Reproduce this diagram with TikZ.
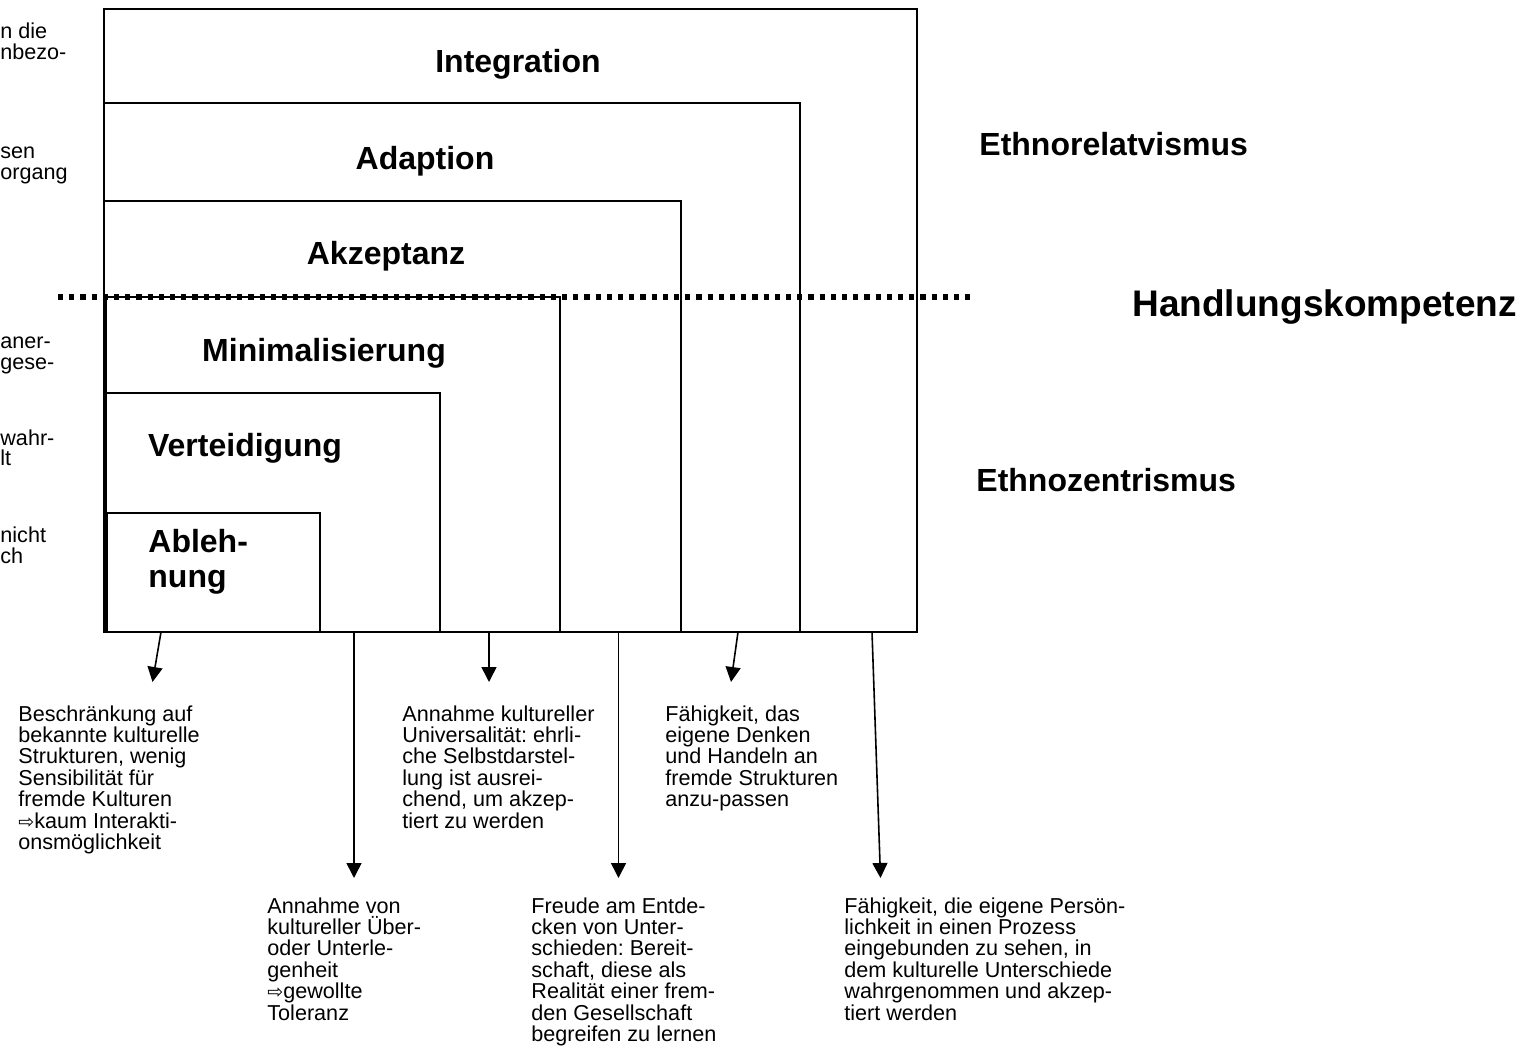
\documentclass[tikz,border=0pt]{standalone}
\usepackage{fontspec}
\setmainfont{Liberation Sans}
\newfontfamily\arrowfont{DejaVu Sans}
\usetikzlibrary{arrows.meta}
\newcommand\hollowarrow{{\arrowfont\fontsize{9.5}{9.5}\selectfont ⇨}}
\frenchspacing
\begin{document}
\begin{tikzpicture}[x=0.5pt,y=-0.5pt,
  outer/.style={line width=1.3pt},
  inner/.style={line width=0.9pt},
  level/.style={font=\bfseries\fontsize{16}{17.5}\selectfont, inner sep=0pt, anchor=base},
  side/.style={font=\bfseries\fontsize{16}{17.5}\selectfont, inner sep=0pt, anchor=base west},
  note/.style={font=\fontsize{10.8}{10.7}\selectfont, align=left, inner sep=0pt, anchor=north west},
  frag/.style={font=\fontsize{10.8}{10.7}\selectfont, inner sep=0pt, anchor=base west},
  pointer/.style={line width=0.8pt, -{Triangle[length=7.5pt,width=7.5pt]}},
  dotline/.style={line width=2.6pt, dash pattern=on 2.6pt off 3pt}
]
\useasboundingbox (0,0) rectangle (1535,1063);

% nested stage boxes, innermost first
\draw[inner] (107,632) rectangle (320,513);
\draw[inner] (106,632) -- (106,393) -- (440,393) -- (440,632);
\draw[inner] (106,393) -- (106,297) -- (560,297) -- (560,632);
\draw[inner] (104,201) -- (681,201) -- (681,632);
\draw[inner] (104,103) -- (800,103) -- (800,632);
\draw[outer] (104,9) rectangle (917,632);

% threshold line
\draw[dotline] (58,297) -- (975,297);

% stage names
\node[level] (integration) at (518,73) {Integration};
\node[level] (adaption) at (425,170) {Adaption};
\node[level] (akzeptanz) at (386,265) {Akzeptanz};
\node[level] (minimal) at (324,362) {Minimalisierung};
\node[level] (verteid) at (245,457) {Verteidigung};
\node[level, anchor=north west, align=left] (ablehnung) at (148,529) {Ableh-\\nung};

% side headings
\node[side] (ethnorel) at (979,156) {Ethnorelatvismus};
\node[side, font=\bfseries\fontsize{18.5}{20}\selectfont] (handlung) at (1132,317) {Handlungskompetenz};
\node[side] (ethnozen) at (976,491) {Ethnozentrismus};

% text continued from the left margin
\node[frag] (f1) at (0,39) {n die};
\node[frag] (f2) at (0,60) {nbezo-};
\node[frag] (f3) at (0,159) {sen};
\node[frag] (f4) at (0,180) {organg};
\node[frag] (f5) at (0,349) {aner-};
\node[frag] (f6) at (0,370) {gese-};
\node[frag] (f7) at (0,445) {wahr-};
\node[frag] (f8) at (0,466) {lt};
\node[frag] (f9) at (0,542) {nicht};
\node[frag] (f10) at (0,563) {ch};

% descriptions
\node[note] (dA) at (18,705) {Beschränkung auf\\bekannte kulturelle\\Strukturen, wenig\\Sensibilität für\\fremde Kulturen\\\hollowarrow kaum Interakti-\\onsmöglichkeit};
\node[note] (dB) at (267,897) {Annahme von\\kultureller Über-\\oder Unterle-\\genheit\\\hollowarrow gewollte\\Toleranz};
\node[note] (dC) at (402,705) {Annahme kultureller\\Universalität: ehrli-\\che Selbstdarstel-\\lung ist ausrei-\\chend, um akzep-\\tiert zu werden};
\node[note] (dD) at (531,897) {Freude am Entde-\\cken von Unter-\\schieden: Bereit-\\schaft, diese als\\Realität einer frem-\\den Gesellschaft\\begreifen zu lernen};
\node[note] (dE) at (665,705) {Fähigkeit, das\\eigene Denken\\und Handeln an\\fremde Strukturen\\anzu-passen};
\node[note] (dF) at (844,897) {Fähigkeit, die eigene Persön-\\lichkeit in einen Prozess\\eingebunden zu sehen, in\\dem kulturelle Unterschiede\\wahrgenommen und akzep-\\tiert werden};

% pointers from the stages to their descriptions
\coordinate (s1) at (161,632);   \coordinate (t1) at (152.5,682);
\coordinate (s2) at (354,632);   \coordinate (t2) at (354,878);
\coordinate (s3) at (489,632);   \coordinate (t3) at (489,682);
\coordinate (s4) at (618.5,632); \coordinate (t4) at (618.5,878);
\coordinate (s5) at (738,632);   \coordinate (t5) at (731,682);
\coordinate (s6) at (872,632);   \coordinate (t6) at (880.5,878);
\foreach \i in {1,...,6} \draw[pointer] (s\i) -- (t\i);
\end{tikzpicture}
\end{document}
